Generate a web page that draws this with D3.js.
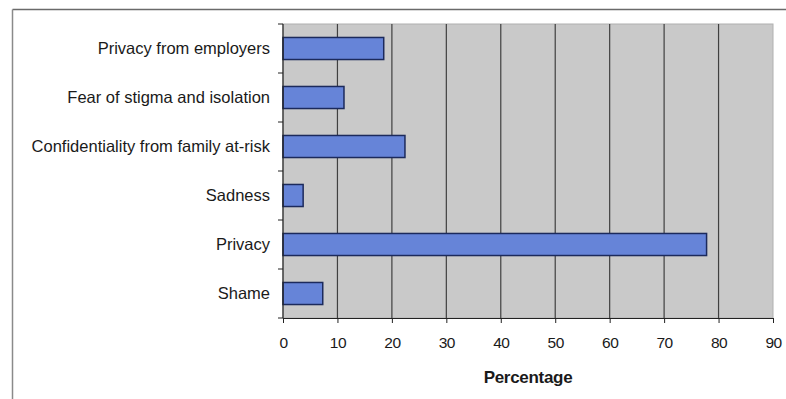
<!DOCTYPE html>
<html>
<head>
<meta charset="utf-8">
<script src="https://cdn.jsdelivr.net/npm/d3@7"></script>
<style>
  html, body { margin: 0; padding: 0; background: #ffffff; }
  svg { display: block; }
  text { font-family: "Liberation Sans", Arial, sans-serif; fill: #1a1a1a; }
</style>
</head>
<body>
<svg id="chart" width="786" height="399"></svg>
<script>
// Reasons reported, top to bottom
const categories = [
  "Privacy from employers",
  "Fear of stigma and isolation",
  "Confidentiality from family at-risk",
  "Sadness",
  "Privacy",
  "Shame"
];
// Percentage of respondents for each reason
const percentages = [18.5, 11.2, 22.4, 3.7, 77.8, 7.3];
// X axis ticks
const xTicks = [0, 10, 20, 30, 40, 50, 60, 70, 80, 90];
const xTitle = "Percentage";

const svg = d3.select("#chart");
const W = 786, H = 399;
const plot = { left: 283, right: 773, top: 24, bottom: 318 };

// Outer chart frame (top and left edges)
svg.append("line").attr("x1", 12.5).attr("x2", W).attr("y1", 9.5).attr("y2", 9.5)
  .attr("stroke", "#6a6a6a").attr("stroke-width", 1.5);
svg.append("line").attr("x1", 12.5).attr("x2", 12.5).attr("y1", 9.5).attr("y2", H)
  .attr("stroke", "#8a8a8a").attr("stroke-width", 1.5);

const x = d3.scaleLinear().domain([0, 90]).range([plot.left, plot.right]);
const y = d3.scaleBand().domain(categories).range([plot.top, plot.bottom]).paddingInner(0.55).paddingOuter(0.275);

// Plot area background
svg.append("rect")
  .attr("x", plot.left).attr("y", plot.top)
  .attr("width", plot.right - plot.left).attr("height", plot.bottom - plot.top)
  .attr("fill", "#c9c9c9")
  .attr("stroke", "#b0b0b0");

// Vertical gridlines
svg.append("g")
  .selectAll("line")
  .data(xTicks.filter(t => t > 0 && t < 90))
  .join("line")
  .attr("x1", d => x(d)).attr("x2", d => x(d))
  .attr("y1", plot.top).attr("y2", plot.bottom)
  .attr("stroke", "#404040").attr("stroke-width", 1.2);

// Bars
svg.append("g")
  .selectAll("rect")
  .data(categories.map((c, i) => ({ c, v: percentages[i] })))
  .join("rect")
  .attr("x", x(0))
  .attr("y", d => y(d.c))
  .attr("width", d => x(d.v) - x(0))
  .attr("height", y.bandwidth())
  .attr("fill", "#6684d8")
  .attr("stroke", "#1c2a5c")
  .attr("stroke-width", 1.5);

// X axis
const xAxis = svg.append("g")
  .attr("transform", `translate(0,${plot.bottom})`)
  .call(d3.axisBottom(x).tickValues(xTicks).tickSize(5).tickSizeOuter(0).tickPadding(14));
xAxis.select(".domain").attr("stroke", "#222").attr("stroke-width", 1.2);
xAxis.selectAll(".tick line").attr("stroke", "#222");
xAxis.selectAll("text").attr("font-size", 15.5).attr("fill", "#1a1a1a")
  .attr("letter-spacing", -0.5)
  .attr("font-family", "'Liberation Sans', Arial, sans-serif");

// Y axis: ticks sit between categories
const yAxisG = svg.append("g").attr("transform", `translate(${plot.left},0)`);
yAxisG.append("line").attr("x1", 0).attr("x2", 0).attr("y1", plot.top).attr("y2", plot.bottom)
  .attr("stroke", "#222").attr("stroke-width", 1.2);
const boundaries = d3.range(categories.length + 1).map(i => plot.top + i * (plot.bottom - plot.top) / categories.length);
yAxisG.selectAll("line.tk")
  .data(boundaries)
  .join("line")
  .attr("class", "tk")
  .attr("x1", -5).attr("x2", 0)
  .attr("y1", d => d).attr("y2", d => d)
  .attr("stroke", "#222");
yAxisG.selectAll("text")
  .data(categories)
  .join("text")
  .attr("x", -13)
  .attr("y", d => y(d) + y.bandwidth() / 2)
  .attr("dy", "0.35em")
  .attr("text-anchor", "end")
  .attr("font-size", 16.5)
  .text(d => d);

// Axis title
svg.append("text")
  .attr("x", (plot.left + plot.right) / 2)
  .attr("y", 383)
  .attr("text-anchor", "middle")
  .attr("font-size", 17)
  .attr("font-weight", "bold")
  .attr("letter-spacing", -0.3)
  .text(xTitle);
</script>
</body>
</html>
